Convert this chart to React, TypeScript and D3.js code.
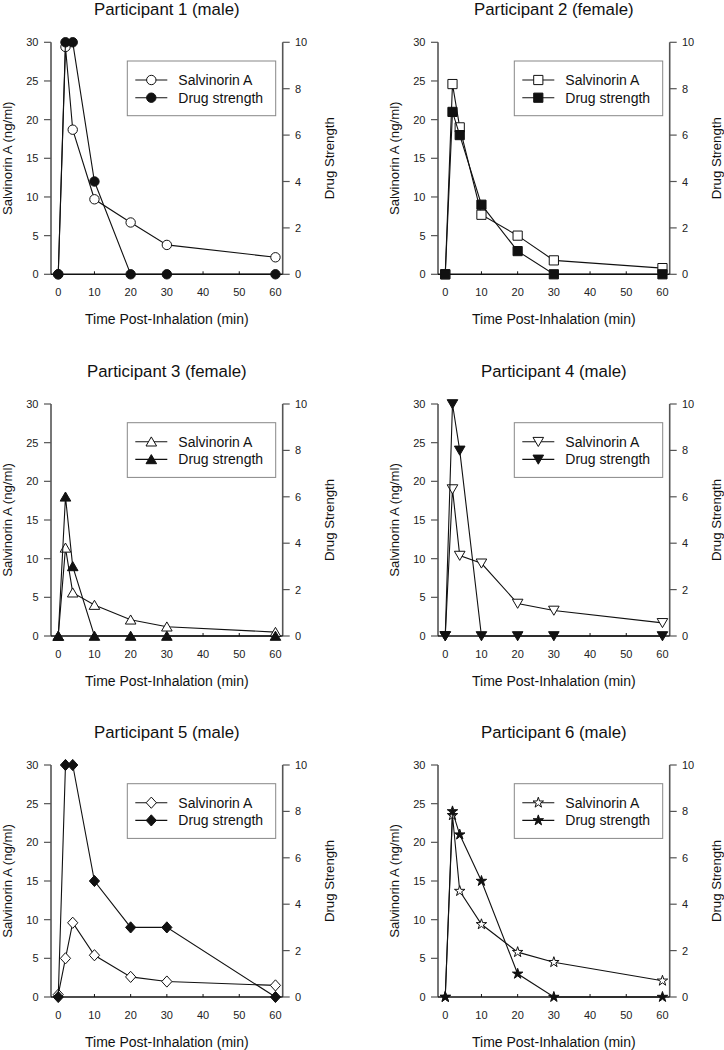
import React from 'react';
import * as d3 from 'd3';

const times = [0, 2, 4, 10, 20, 30, 60];
const titles = [
  'Participant 1 (male)',
  'Participant 2 (female)',
  'Participant 3 (female)',
  'Participant 4 (male)',
  'Participant 5 (male)',
  'Participant 6 (male)',
];
const salvinorinP1 = [0, 29.4, 18.7, 9.7, 6.7, 3.8, 2.2];
const salvinorinP2 = [0, 24.6, 19.0, 7.7, 5.0, 1.8, 0.8];
const salvinorinP3 = [0, 11.4, 5.6, 4.0, 2.1, 1.2, 0.5];
const salvinorinP4 = [0, 19.0, 10.4, 9.4, 4.2, 3.3, 1.7];
const salvinorinP5 = [0.3, 5.0, 9.6, 5.4, 2.6, 2.0, 1.5];
const salvinorinP6 = [0, 23.5, 13.7, 9.4, 5.8, 4.5, 2.1];
const strengthP1 = [0, 10, 10, 4, 0, 0, 0];
const strengthP2 = [0, 7, 6, 3, 1, 0, 0];
const strengthP3 = [0, 6, 3, 0, 0, 0, 0];
const strengthP4 = [0, 10, 8, 0, 0, 0, 0];
const strengthP5 = [0, 10, 10, 5, 3, 3, 0];
const strengthP6 = [0, 8, 7, 5, 1, 0, 0];
const markerKinds = ['circle', 'square', 'triangleUp', 'triangleDown', 'diamond', 'star'];
const concTicks = [0, 5, 10, 15, 20, 25, 30];
const strengthTicks = [0, 2, 4, 6, 8, 10];
const timeTicks = [0, 10, 20, 30, 40, 50, 60];
const seriesNames = ['Salvinorin A', 'Drug strength'];

const salvinorin = [salvinorinP1, salvinorinP2, salvinorinP3, salvinorinP4, salvinorinP5, salvinorinP6];
const strength = [strengthP1, strengthP2, strengthP3, strengthP4, strengthP5, strengthP6];

const FONT = "'Liberation Sans', Arial, Helvetica, sans-serif";
const colX = [51, 438];
const rowY = [42.3, 404, 765];
const PW = 231.7;
const PH = 232;
const AXIS_GREY = '#555';

function markerPath(kind: string): string {
  switch (kind) {
    case 'circle':
      return d3.symbol(d3.symbolCircle, Math.PI * 4.7 * 4.7)() as string;
    case 'square': {
      const h = 4.6;
      return `M${-h},${-h}H${h}V${h}H${-h}Z`;
    }
    case 'triangleUp':
      return 'M0,-4.8L5.3,4.3L-5.3,4.3Z';
    case 'triangleDown':
      return 'M0,4.8L5.3,-4.3L-5.3,-4.3Z';
    case 'diamond':
      return 'M0,-5.6L5.1,0L0,5.6L-5.1,0Z';
    case 'star':
      return d3.symbol(d3.symbolStar, 34)() as string;
    default:
      return '';
  }
}

function Panel({ idx }: { idx: number }) {
  const left = colX[idx % 2];
  const top = rowY[Math.floor(idx / 2)];
  const right = left + PW;
  const bottom = top + PH;
  const x = d3.scaleLinear().domain([-2, 62]).range([left, right]);
  const yC = d3.scaleLinear().domain([0, 30]).range([bottom, top]);
  const yS = d3.scaleLinear().domain([0, 10]).range([bottom, top]);
  const sal = salvinorin[idx];
  const str = strength[idx];
  const kind = markerKinds[idx];
  const mp = markerPath(kind);
  const lineC = d3.line<number>().x((_, i) => x(times[i])).y((d) => yC(d));
  const lineS = d3.line<number>().x((_, i) => x(times[i])).y((d) => yS(d));
  const cx = (left + right) / 2;
  const cy = (top + bottom) / 2;
  const lgX = left + 76.3;
  const lgY = top + 18.7;
  const lgW = right - 7 - lgX;
  const lgH = 54.7;
  return (
    <g>
      <text x={cx} y={top - 27.5} textAnchor="middle" fontSize={16.8} fontFamily={FONT} fill="#111">
        {titles[idx]}
      </text>
      {/* left axis */}
      <line x1={left} x2={left} y1={top} y2={bottom} stroke={AXIS_GREY} strokeWidth={1.6} />
      {concTicks.map((t) => (
        <g key={'l' + t}>
          <line x1={left - 7} x2={left} y1={yC(t)} y2={yC(t)} stroke={AXIS_GREY} strokeWidth={1.2} />
          <text x={left - 12.5} y={yC(t) + 4} textAnchor="end" fontSize={11} fontFamily={FONT} fill="#222">
            {t}
          </text>
        </g>
      ))}
      {/* right axis */}
      <line x1={right} x2={right} y1={top} y2={bottom} stroke={AXIS_GREY} strokeWidth={1.6} />
      {strengthTicks.map((t) => (
        <g key={'r' + t}>
          <line x1={right} x2={right + 7} y1={yS(t)} y2={yS(t)} stroke={AXIS_GREY} strokeWidth={1.2} />
          <text x={right + 12.3} y={yS(t) + 4} textAnchor="start" fontSize={11} fontFamily={FONT} fill="#222">
            {t}
          </text>
        </g>
      ))}
      {/* bottom axis */}
      <line x1={left} x2={right} y1={bottom} y2={bottom} stroke="#111" strokeWidth={1.4} />
      {timeTicks.map((t) => (
        <g key={'b' + t}>
          <line x1={x(t)} x2={x(t)} y1={bottom} y2={bottom - 3} stroke="#111" strokeWidth={1} />
          <text x={x(t)} y={bottom + 21.7} textAnchor="middle" fontSize={11} fontFamily={FONT} fill="#222">
            {t}
          </text>
        </g>
      ))}
      <text x={cx} y={bottom + 50} textAnchor="middle" fontSize={14} fontFamily={FONT} fill="#111">
        Time Post-Inhalation (min)
      </text>
      <text
        transform={`translate(${left - 39.5},${cy}) rotate(-90)`}
        textAnchor="middle"
        fontSize={13.2}
        fontFamily={FONT}
        fill="#111"
      >
        Salvinorin A (ng/ml)
      </text>
      <text
        transform={`translate(${right + 51.5},${cy}) rotate(-90)`}
        textAnchor="middle"
        fontSize={13.2}
        fontFamily={FONT}
        fill="#111"
      >
        Drug Strength
      </text>
      {/* legend */}
      <rect x={lgX} y={lgY} width={lgW} height={lgH} fill="white" stroke="#888" strokeWidth={1} />
      {seriesNames.map((name, i) => {
        const ry = lgY + 19 + i * 17.7;
        return (
          <g key={name}>
            <line x1={lgX + 8} x2={lgX + 40} y1={ry} y2={ry} stroke="#111" strokeWidth={1.1} />
            <path
              d={mp}
              transform={`translate(${lgX + 24},${ry})`}
              fill={i === 0 ? 'white' : '#111'}
              stroke="#111"
              strokeWidth={1}
            />
            <text x={lgX + 51} y={ry + 5} fontSize={14} fontFamily={FONT} fill="#111">
              {name}
            </text>
          </g>
        );
      })}
      {/* salvinorin series */}
      <path d={lineC(sal) as string} fill="none" stroke="#111" strokeWidth={1.1} />
      {sal.map((v, i) => (
        <path
          key={'s' + i}
          d={mp}
          transform={`translate(${x(times[i])},${yC(v)})`}
          fill="white"
          stroke="#111"
          strokeWidth={1}
        />
      ))}
      {/* drug strength series */}
      <path d={lineS(str) as string} fill="none" stroke="#111" strokeWidth={1.1} />
      {str.map((v, i) => (
        <path
          key={'d' + i}
          d={mp}
          transform={`translate(${x(times[i])},${yS(v)})`}
          fill="#111"
          stroke="#111"
          strokeWidth={1}
        />
      ))}
    </g>
  );
}

export default function App() {
  return (
    <svg
      width={724}
      height={1050}
      viewBox="0 0 724 1050"
      style={{ position: 'absolute', left: 0, top: 0, background: 'white' }}
    >
      <rect x={0} y={0} width={724} height={1050} fill="white" />
      {titles.map((_, i) => (
        <Panel key={i} idx={i} />
      ))}
    </svg>
  );
}
